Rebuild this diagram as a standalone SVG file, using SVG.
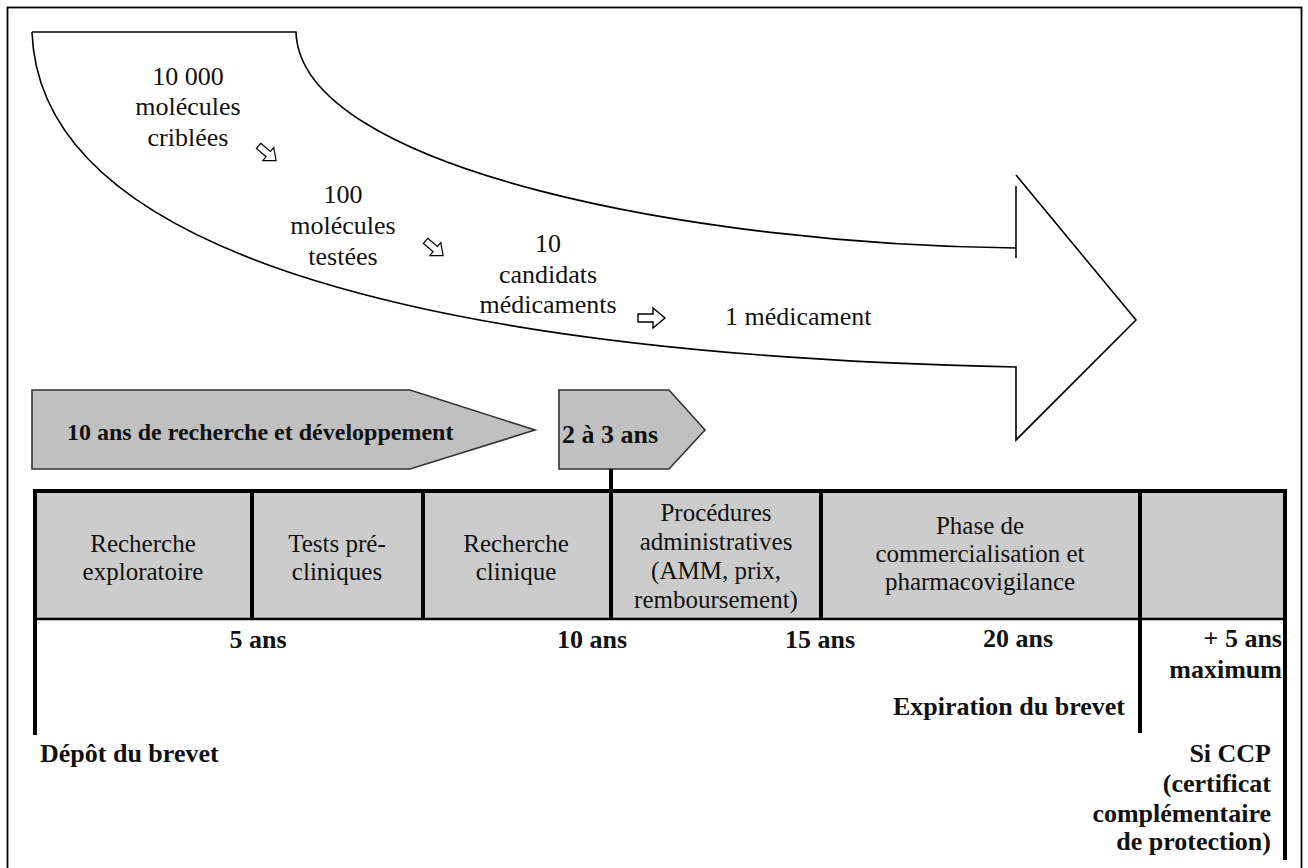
<svg xmlns="http://www.w3.org/2000/svg" width="1308" height="868" viewBox="0 0 1308 868">
<style>
.reg{font-family:"Liberation Serif","Times New Roman",Times,serif;font-size:26px;fill:#111;}
.cell{font-family:"Liberation Serif","Times New Roman",Times,serif;font-size:25px;fill:#111;text-anchor:middle;}
.bold{font-family:"Liberation Serif","Times New Roman",Times,serif;font-size:26px;font-weight:bold;fill:#111;}
.mid{text-anchor:middle;}
.end{text-anchor:end;}
.thin{fill:none;stroke:#000;stroke-width:1.6;}
.thick{stroke:#000;stroke-width:4;fill:none;}
.bar{fill:#c0c0c0;stroke:#333;stroke-width:1.6;}
.hollow{fill:#fff;stroke:#000;stroke-width:1.4;stroke-linejoin:miter;}
</style>
<defs>
<polygon id="harrow" points="-13,-4 2,-4 2,-10 14,0 2,10 2,4 -13,4"/>
</defs>
<rect x="0" y="0" width="1308" height="868" fill="#fff"/>
<rect x="7.5" y="7.5" width="1294" height="880" fill="none" stroke="#000" stroke-width="1.8"/>

<g id="big-arrow">
<path class="thin" d="M32,32 H296 C300,170 700,245 1016,248"/>
<path class="thin" d="M1016,186 V258"/>
<path class="thin" d="M1016,175 L1136,320 L1016,440 V367 C450,355 40,260 32,32"/>
<text class="reg mid" x="188" y="85">10 000</text>
<text class="reg mid" x="188" y="115">molécules</text>
<text class="reg mid" x="188" y="146">criblées</text>
<text class="reg mid" x="343" y="203">100</text>
<text class="reg mid" x="343" y="234">molécules</text>
<text class="reg mid" x="343" y="265">testées</text>
<text class="reg mid" x="548" y="252">10</text>
<text class="reg mid" x="548" y="283">candidats</text>
<text class="reg mid" x="548" y="313">médicaments</text>
<text class="reg" x="725" y="325">1 médicament</text>
</g>

<g id="bar-rd">
<polygon class="bar" points="32,390 410,390 535,430 410,469 32,469"/>
<text class="bold" x="67" y="440" style="font-size:24px">10 ans de recherche et développement</text>
</g>

<g id="bar-admin">
<polygon class="bar" points="559,390 669,390 705,430 669,469 559,469"/>
<text class="bold" x="562" y="443">2 à 3 ans</text>
</g>

<g id="table">
<rect x="35" y="491" width="1250" height="128" fill="#cccccc"/>
<line x1="35" y1="619" x2="1285" y2="619" stroke="#000" stroke-width="2.5"/>
<line class="thick" x1="33" y1="491" x2="1287" y2="491"/>
<line class="thick" x1="252" y1="491" x2="252" y2="619"/>
<line class="thick" x1="423" y1="491" x2="423" y2="619"/>
<line class="thick" x1="821" y1="491" x2="821" y2="619"/>
</g>

<g id="cell-exploratoire">
<text class="cell" x="143" y="552">Recherche</text>
<text class="cell" x="143" y="580">exploratoire</text>
</g>
<g id="cell-precliniques">
<text class="cell" x="337" y="552">Tests pré-</text>
<text class="cell" x="337" y="580">cliniques</text>
</g>
<g id="cell-clinique">
<text class="cell" x="516" y="552">Recherche</text>
<text class="cell" x="516" y="580">clinique</text>
</g>
<g id="cell-procedures">
<text class="cell" x="716" y="521">Procédures</text>
<text class="cell" x="716" y="550">administratives</text>
<text class="cell" x="716" y="579">(AMM, prix,</text>
<text class="cell" x="716" y="608">remboursement)</text>
</g>
<g id="cell-commercialisation">
<text class="cell" x="980" y="534">Phase de</text>
<text class="cell" x="980" y="562">commercialisation et</text>
<text class="cell" x="980" y="590">pharmacovigilance</text>
</g>

<g id="connectors">
<use href="#harrow" class="hollow" transform="translate(267,153) rotate(40) scale(0.85)"/>
<use href="#harrow" class="hollow" transform="translate(434,248) rotate(40) scale(0.85)"/>
<use href="#harrow" class="hollow" transform="translate(651,318)"/>
<line class="thick" x1="611" y1="469" x2="611" y2="619"/>
<line class="thick" x1="35" y1="489" x2="35" y2="735"/>
<line class="thick" x1="1140" y1="491" x2="1140" y2="733"/>
<line class="thick" x1="1285" y1="489" x2="1285" y2="860"/>
</g>

<g id="timeline-labels">
<text class="bold mid" x="258" y="648">5 ans</text>
<text class="bold mid" x="592" y="648">10 ans</text>
<text class="bold mid" x="820" y="648">15 ans</text>
<text class="bold mid" x="1018" y="647">20 ans</text>
<text class="bold end" x="1282" y="647">+ 5 ans</text>
<text class="bold end" x="1282" y="678">maximum</text>
<text class="bold end" x="1125" y="715">Expiration du brevet</text>
<text class="bold" x="40" y="762">Dépôt du brevet</text>
<text class="bold end" x="1271" y="762">Si CCP</text>
<text class="bold end" x="1271" y="792">(certificat</text>
<text class="bold end" x="1271" y="822">complémentaire</text>
<text class="bold end" x="1271" y="850">de protection)</text>
</g>
</svg>
